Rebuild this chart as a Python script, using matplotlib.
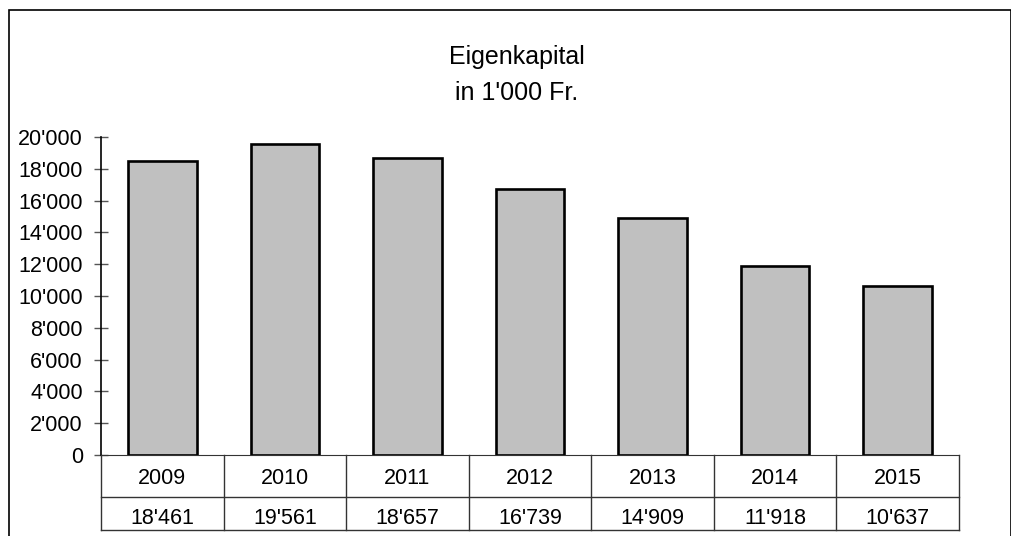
import matplotlib

matplotlib.use("Agg")
import matplotlib.pyplot as plt
from matplotlib.patches import Rectangle
from matplotlib.ticker import FuncFormatter

plt.rcParams["font.family"] = ["Liberation Sans", "DejaVu Sans"]

years = ["2009", "2010", "2011", "2012", "2013", "2014", "2015"]
equity = [18461, 19561, 18657, 16739, 14909, 11918, 10637]
yticks = list(range(0, 20001, 2000))

W, H = 1012, 536
fig = plt.figure(figsize=(W / 100, H / 100), dpi=100)

# outer frame of the chart
fig.patches.append(Rectangle((9.5 / W, -0.05), 1001.5 / W, 1.05 - 10.5 / H,
                             transform=fig.transFigure, fill=False,
                             edgecolor="black", linewidth=1.2))

ax_l, ax_r, ax_t, ax_b = 101, 959, 137, 455
ax = fig.add_axes([ax_l / W, (H - ax_b) / H, (ax_r - ax_l) / W, (ax_b - ax_t) / H])

x = list(range(len(years)))
ax.bar(x, equity, width=0.56, color="#c0c0c0", edgecolor="black", linewidth=1.9)
ax.set_xlim(-0.5, len(years) - 0.5)
ax.set_ylim(0, 20000)
ax.set_yticks(yticks)
ax.yaxis.set_major_formatter(FuncFormatter(lambda v, p: f"{v:,.0f}".replace(",", "'")))
ax.tick_params(axis="y", direction="inout", length=10, width=1, color="#555555",
               pad=8, labelsize=15.5)
ax.set_xticks([])
for s in ["top", "right"]:
    ax.spines[s].set_visible(False)
ax.spines["left"].set_linewidth(1.2)
ax.spines["bottom"].set_color("#333333")

# data table below the axis
ah = ax_b - ax_t
r1 = -(497 - ax_b) / ah
r2 = -(530 - ax_b) / ah
tr = ax.get_xaxis_transform()
lc = "#333333"
for i in range(len(years) + 1):
    ax.plot([i - 0.5, i - 0.5], [0, r2], color=lc, lw=1, transform=tr, clip_on=False)
for yy in [r1, r2]:
    ax.plot([-0.5, len(years) - 0.5], [yy, yy], color=lc, lw=1, transform=tr, clip_on=False)
for i, (yr, v) in enumerate(zip(years, equity)):
    ax.text(i, -(478 - ax_b) / ah, yr, transform=tr, ha="center", va="center", fontsize=15.5)
    ax.text(i, -(519 - ax_b) / ah, f"{v:,}".replace(",", "'"), transform=tr,
            ha="center", va="center", fontsize=15.5)

fig.text(517 / W, 1 - 75 / H, "Eigenkapital\nin 1'000 Fr.", ha="center", va="center",
         fontsize=18, linespacing=1.65)

fig.savefig("out.png", dpi=100, facecolor="white")
